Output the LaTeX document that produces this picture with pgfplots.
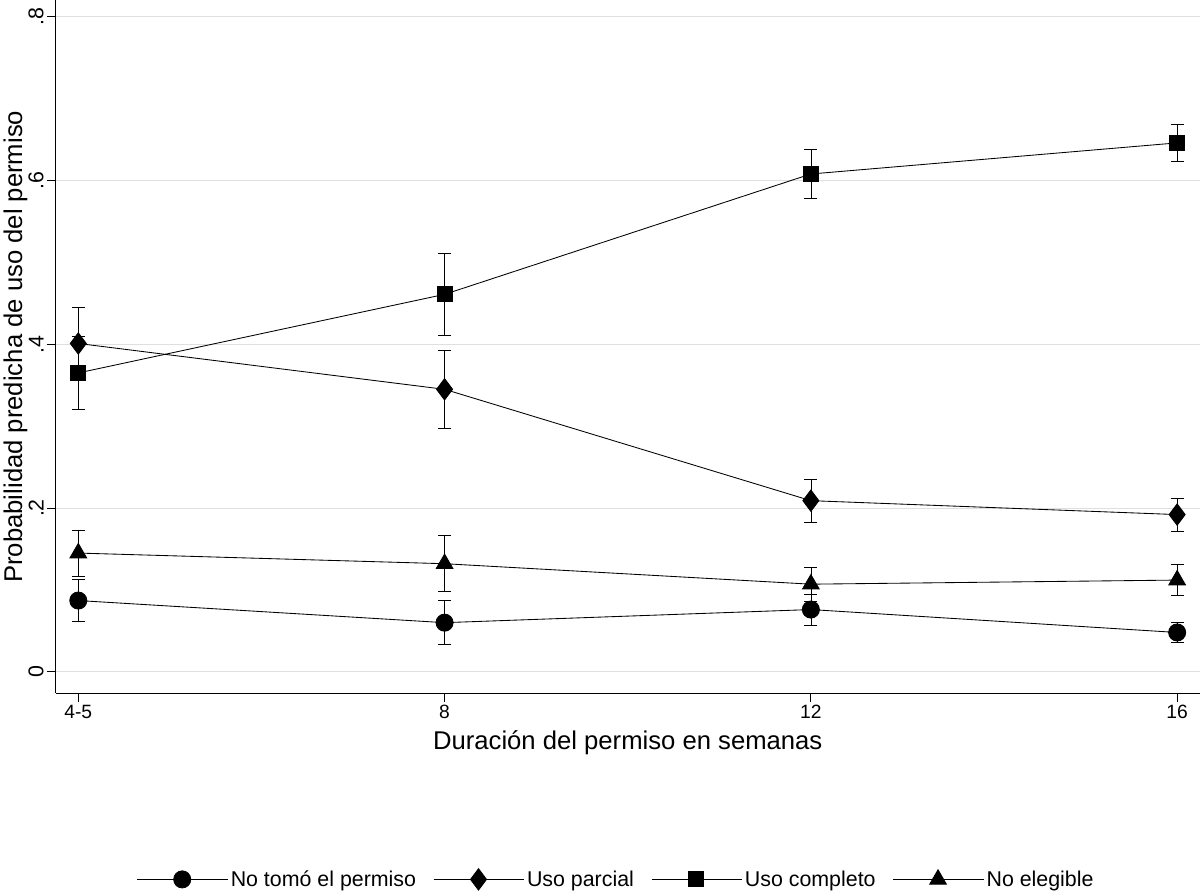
\documentclass[border=0pt]{standalone}
\usepackage{pgfplots}
\pgfplotsset{compat=1.18}
\usepackage{fontspec}
\setmainfont{Liberation Sans}
\pgfplotsset{eb/.style={black, thick, mark size=8pt,
    error bars/.cd, y dir=both, y explicit, error mark options={rotate=90, mark size=6pt, thick, black}}}
\begin{document}
\begin{tikzpicture}
\begin{axis}[
  scale only axis, width=1070pt, height=648pt,
  xmin=3.755, xmax=16.245, ymin=-0.026, ymax=0.82,
  axis lines=left, axis line style={-, thick},
  xtick={4,8,12,16}, xticklabels={4-5,8,12,16},
  ytick={0,0.2,0.4,0.6,0.8}, yticklabels={0,.2,.4,.6,.8},
  yticklabel style={rotate=90, anchor=south, font=\fontsize{20}{22}\selectfont},
  xticklabel style={font=\fontsize{18}{20}\selectfont},
  tick align=outside, major tick length=8pt, tick style={thick,black},
  ymajorgrids, grid style={gray!25, thick},
  xlabel={Duración del permiso en semanas},
  ylabel={Probabilidad predicha de uso del permiso},
  label style={font=\fontsize{24}{26}\selectfont},
  xlabel style={yshift=-4pt},
  ylabel style={yshift=-6pt},
  legend style={at={(0.49,-0.25)}, anchor=north, draw=none,
    font=\fontsize{20}{22}\selectfont, /tikz/every even column/.append style={column sep=14pt}},
  legend columns=4,
  legend image code/.code={\draw[#1] (0pt,0pt) -- (85pt,0pt); \draw[#1] plot coordinates {(42pt,0pt)};},
]
\addplot[mark=*, mark options={solid,fill=black}, eb] coordinates {
 (4,0.087) +- (0,0.026) (8,0.060) +- (0,0.027) (12,0.076) +- (0,0.019) (16,0.048) +- (0,0.012)};
\addlegendentry{No tomó el permiso}
\addplot[mark=diamond*, mark options={solid,fill=black}, eb, /tikz/mark size=10pt] coordinates {
 (4,0.401) +- (0,0.044) (8,0.345) +- (0,0.048) (12,0.209) +- (0,0.026) (16,0.192) +- (0,0.020)};
\addlegendentry{Uso parcial}
\addplot[mark=square*, mark options={solid,fill=black}, eb, /tikz/mark size=7pt] coordinates {
 (4,0.365) +- (0,0.045) (8,0.461) +- (0,0.050) (12,0.608) +- (0,0.030) (16,0.646) +- (0,0.023)};
\addlegendentry{Uso completo}
\addplot[mark=triangle*, mark options={solid,fill=black}, eb, /tikz/mark size=9pt] coordinates {
 (4,0.145) +- (0,0.028) (8,0.132) +- (0,0.034) (12,0.107) +- (0,0.021) (16,0.112) +- (0,0.019)};
\addlegendentry{No elegible}
\end{axis}
\end{tikzpicture}
\end{document}
